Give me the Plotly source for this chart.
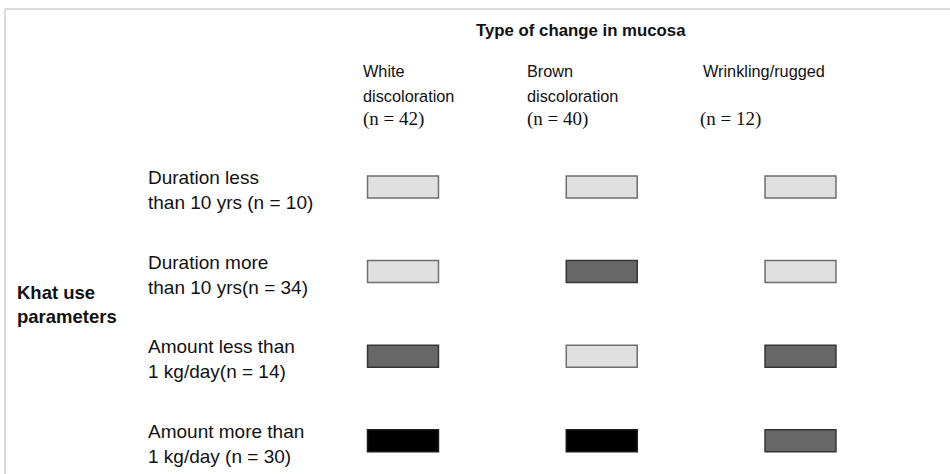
import plotly.graph_objects as go

# ---- data ----
col_names = ["White", "Brown", "Wrinkling/rugged"]
col_sub = ["discoloration", "discoloration", ""]
col_n = [42, 40, 12]
row_line1 = ["Duration less", "Duration more", "Amount less than", "Amount more than"]
row_line2 = ["than 10 yrs", "than 10 yrs", "1 kg/day", "1 kg/day"]
row_gap = [" ", "", "", " "]
row_n = [10, 34, 14, 30]
# shading level per cell: 0 = light, 1 = dark grey, 2 = black
levels = [
    [0, 0, 0],
    [0, 1, 0],
    [1, 0, 1],
    [2, 2, 1],
]
title = "Type of change in mucosa"
group_label = "Khat use<br>parameters"

# ---- styles ----
W, H = 950, 474
fill = {0: "#e0e0e0", 1: "#676767", 2: "#000000"}
edge = {0: "#6e6e6e", 1: "#353535", 2: "#1a1a1a"}
SANS = "Liberation Sans, Arial, sans-serif"
SERIF = "Liberation Serif, Times New Roman, serif"
bar_h = 0.26
bar_w = 0.357

# pixel geometry of the grid
col_c0, col_pitch = 403.0, 198.75
row_c0, row_pitch = 187.0, 84.6
x_dom = [(col_c0 - col_pitch / 2) / W, (col_c0 + 2.5 * col_pitch) / W]
y_top = -row_c0 / row_pitch
y_bot = (H - row_c0) / row_pitch

col_keys = [f"{a} {b}".strip() for a, b in zip(col_names, col_sub)]

fig = go.Figure()
for i, lv in enumerate(levels):
    fig.add_trace(go.Bar(
        x=col_keys,
        y=[bar_h] * len(lv),
        base=[i - bar_h / 2] * len(lv),
        width=bar_w,
        marker=dict(color=[fill[v] for v in lv],
                    line=dict(color=[edge[v] for v in lv], width=1.5)),
        showlegend=False,
        hoverinfo="skip",
    ))

ann = []
# title
ann.append(dict(text=f"<b>{title}</b>", x=581 / W, y=1 - 31 / H, xref="paper", yref="paper",
                xanchor="center", yanchor="middle", showarrow=False,
                font=dict(family=SANS, size=16.8, color="#111")))
# column headers
col_x = [361, 525, 701]
n_x = [361, 525, 698]
for j in range(len(col_names)):
    ann.append(dict(text=col_names[j], x=col_x[j] / W, y=1 - 71 / H, xref="paper", yref="paper",
                    xanchor="left", yanchor="middle", showarrow=False,
                    font=dict(family=SANS, size=16.3, color="#111")))
    if col_sub[j]:
        ann.append(dict(text=col_sub[j], x=col_x[j] / W, y=1 - 96 / H, xref="paper", yref="paper",
                        xanchor="left", yanchor="middle", showarrow=False,
                        font=dict(family=SANS, size=16.3, color="#111")))
    ann.append(dict(text=f"(n = {col_n[j]})", x=n_x[j] / W, y=1 - 119 / H, xref="paper", yref="paper",
                    xanchor="left", yanchor="middle", showarrow=False,
                    font=dict(family=SERIF, size=19, color="#111")))
# row labels
for i in range(len(row_line1)):
    ann.append(dict(text=f"{row_line1[i]}<br>{row_line2[i]}{row_gap[i]}(n = {row_n[i]})",
                    x=146 / W, xref="paper", y=i, yref="y", yshift=-3,
                    xanchor="left", yanchor="middle", align="left", showarrow=False,
                    font=dict(family=SANS, size=19, color="#111")))
# group label
ann.append(dict(text=f"<b>{group_label}</b>", x=15 / W, y=1 - 304 / H, xref="paper", yref="paper",
                xanchor="left", yanchor="middle", align="left", showarrow=False,
                font=dict(family=SANS, size=18.5, color="#111")))

fig.update_layout(
    width=W, height=H,
    margin=dict(l=0, r=0, t=0, b=0),
    paper_bgcolor="white", plot_bgcolor="white",
    barmode="overlay",
    xaxis=dict(domain=x_dom, range=[-0.5, 2.5], visible=False, type="category", fixedrange=True),
    yaxis=dict(domain=[0, 1], range=[y_bot, y_top], visible=False, fixedrange=True),
    annotations=ann,
    shapes=[
        dict(type="line", xref="paper", yref="paper", x0=5 / W, x1=1, y0=1 - 9 / H, y1=1 - 9 / H,
             line=dict(color="#d0d0d0", width=1.5)),
        dict(type="line", xref="paper", yref="paper", x0=5 / W, x1=5 / W, y0=0, y1=1 - 9 / H,
             line=dict(color="#d0d0d0", width=1.5)),
    ],
)

fig.write_html("out.html", config={"displayModeBar": False},
               post_script="document.body.style.margin='0';document.body.style.overflow='hidden';")
